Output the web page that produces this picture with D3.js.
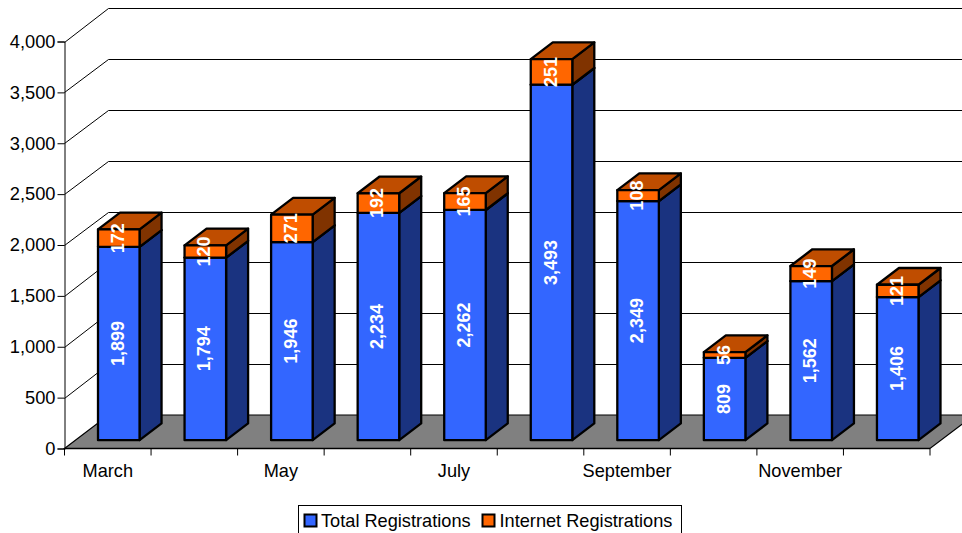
<!DOCTYPE html>
<html><head><meta charset="utf-8">
<script src="https://cdn.jsdelivr.net/npm/d3@7/dist/d3.min.js"></script>
<style>html,body{margin:0;padding:0;background:#fff;overflow:hidden}svg{display:block}text{font-family:"Liberation Sans",Arial,sans-serif}</style>
</head><body><svg id="c" width="962" height="533"></svg>
<script>
const months=["March","April","May","June","July","August","September","October","November","December"];
const shownMonths=["March","May","July","September","November"];
const totalRegistrations=[1899,1794,1946,2234,2262,3493,2349,809,1562,1406];
const internetRegistrations=[172,120,271,192,165,251,108,56,149,121];
const yTicks=[0,500,1000,1500,2000,2500,3000,3500,4000];
const seriesNames=["Total Registrations","Internet Registrations"];

const W=962,H=533,left=64.5,right=930,y0=448.5,y4000=41.5,dx=44,dy=33.5;
const svg=d3.select("#c");
const x=d3.scaleBand().domain(months).range([left,right]).paddingInner(0.52).paddingOuter(0.26);
const edge=d3.scaleBand().domain(months).range([left,right]);
const y=d3.scaleLinear().domain([0,4000]).range([y0,y4000]);
const fmt=d3.format(",");
const cFront=["#3366ff","#ff6600"],cSide=["#1a3380","#803300"],cTop=["#264dbf","#bf4d00"];
const bdx=dx*0.25,bdy=dy*0.25,dep=dx*0.5,depY=dy*0.5;

// walls + gridlines
const grid=svg.append("g");
yTicks.forEach(v=>{
  grid.append("path").attr("fill","none").attr("stroke","#000").attr("stroke-width",1)
   .attr("d",`M${left},${Math.round(y(v))+.5}L${left+dx},${Math.round(y(v)-dy)+.5}H${W+20}`);
});
// floor
svg.append("path").attr("fill","#808080").attr("stroke","#000").attr("stroke-width",1.2)
 .attr("d",`M${left},${y0}L${left+dx},${y0-dy}H${right+dx}L${right},${y0}Z`);

// bars
function box(g,xl,w,yb,yt,i){
  const st={stroke:"#000","stroke-width":2.3,"stroke-linejoin":"round"};
  const add=(d,f)=>{const p=g.append("path").attr("d",d).attr("fill",f);Object.entries(st).forEach(([k,v])=>p.attr(k,v));};
  add(`M${xl+w},${yb}L${xl+w+dep},${yb-depY}V${yt-depY}L${xl+w},${yt}Z`,cSide[i]);
  add(`M${xl},${yt}L${xl+dep},${yt-depY}H${xl+w+dep}L${xl+w},${yt}Z`,cTop[i]);
  add(`M${xl},${yb}H${xl+w}V${yt}H${xl}Z`,cFront[i]);
}
const yBar=v=>y(v)-bdy;
months.forEach((m,k)=>{
  const g=svg.append("g"),xl=x(m)+bdx,w=x.bandwidth();
  const a=totalRegistrations[k],b=internetRegistrations[k];
  box(g,xl,w,yBar(0),yBar(a),0);
  box(g,xl,w,yBar(a),yBar(a+b),1);
  [[a,yBar(a/2)],[b,yBar(a+b/2)]].forEach(([v,cy])=>{
    g.append("text").attr("transform",`translate(${xl+w/2-1},${cy}) rotate(-90)`)
     .attr("text-anchor","middle").attr("dominant-baseline","central")
     .attr("fill","#fff").attr("font-weight","bold").attr("font-size",18).text(fmt(v));
  });
});

// y axis
const ya=svg.append("g").attr("transform",`translate(${left},0)`)
 .call(d3.axisLeft(y).tickValues(yTicks).tickFormat(fmt).tickSize(7).tickPadding(2));
ya.selectAll("path,line").attr("stroke","#000").attr("stroke-width",1);
ya.selectAll("text").attr("font-size",18.3).attr("fill","#000").attr("font-family",'"Liberation Sans",Arial,sans-serif');

// x axis
const xa=svg.append("g").attr("transform",`translate(0,${y0})`);
xa.append("path").attr("d",`M${left},0H${right}`).attr("stroke","#000").attr("stroke-width",1.4);
months.concat(["_end"]).forEach((m,i)=>{
  const px=m==="_end"?right:edge(m);
  xa.append("line").attr("x1",px).attr("x2",px).attr("y1",0).attr("y2",7).attr("stroke","#000");
});
const xl=svg.append("g").attr("transform",`translate(0,${y0})`)
 .call(d3.axisBottom(edge).tickValues(shownMonths).tickSize(0).tickPadding(16));
xl.select("path").remove();
xl.selectAll("text").attr("font-size",18.2).attr("fill","#000").attr("font-family",'"Liberation Sans",Arial,sans-serif');

// legend
const lg=svg.append("g");
lg.append("rect").attr("x",298.5).attr("y",505.5).attr("width",383).attr("height",40).attr("fill","#fff").attr("stroke","#000");
const pos=[[304,321],[482,499.5]];
seriesNames.forEach((n,i)=>{
  lg.append("rect").attr("x",pos[i][0]+.5).attr("y",514.5).attr("width",12).attr("height",12).attr("fill",cFront[i]).attr("stroke","#000").attr("stroke-width",2);
  lg.append("text").attr("x",pos[i][1]).attr("y",527).attr("font-size",18.2).attr("fill","#000").text(n);
});
</script></body></html>
